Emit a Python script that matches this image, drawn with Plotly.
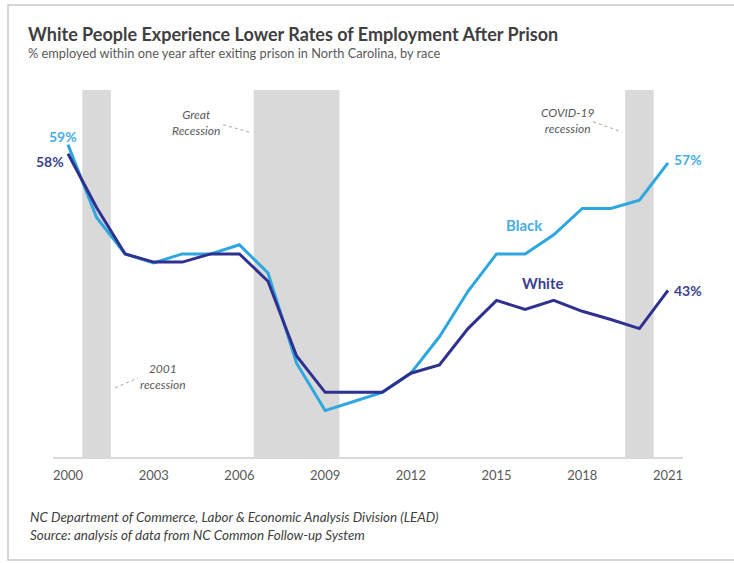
import plotly.graph_objects as go

# ---- data ----
years = list(range(2000, 2022))
black = [59, 51, 47, 46, 47, 47, 48, 44.9, 35, 29.8, 30.8, 31.8, 33.9, 37.9, 42.9, 47, 47, 49.1, 52, 52, 52.9, 57]
white = [58, 52.1, 47, 46.1, 46.1, 47, 47, 44, 35.8, 31.8, 31.8, 31.8, 33.9, 34.8, 38.8, 41.9, 40.9, 41.9, 40.7, 39.8, 38.8, 43]
recessions = [(2000.5, 2001.5), (2006.5, 2009.5), (2019.5, 2020.5)]
tick_years = [2000, 2003, 2006, 2009, 2012, 2015, 2018, 2021]

BLUE = "#2ea6de"
NAVY = "#2f3191"
FONT = "Lato"
W, H = 734, 564

fig = go.Figure()
fig.add_trace(go.Scatter(x=years, y=black, mode="lines", name="Black",
                         line=dict(color=BLUE, width=3), hoverinfo="skip"))
fig.add_trace(go.Scatter(x=years, y=white, mode="lines", name="White",
                         line=dict(color=NAVY, width=3), hoverinfo="skip"))

shapes = []
for x0, x1 in recessions:
    shapes.append(dict(type="rect", xref="x", yref="y domain", x0=x0, x1=x1, y0=0, y1=1,
                       fillcolor="#d9d9d9", line=dict(width=0), layer="below"))
# dotted connector lines for recession notes
for (xa, ya, xb, yb) in [(2005.43, 61.19, 2006.41, 60.31),
                         (2018.38, 61.5, 2019.39, 60.4),
                         (2001.65, 32.29, 2002.45, 33.38)]:
    shapes.append(dict(type="line", xref="x", yref="y", x0=xa, y0=ya, x1=xb, y1=yb,
                       line=dict(color="#a6a6a6", width=1, dash="dot")))
# frame
shapes.append(dict(type="rect", xref="paper", yref="paper",
                   x0=8 / W, x1=760 / W, y0=1 - 560 / H, y1=1 - 5 / H,
                   line=dict(color="#c8c8c8", width=1.5), fillcolor="rgba(0,0,0,0)"))

ann = []
def lab(x, y, text, color, xanchor="center", xshift=0, yshift=0, size=14, bold=True, italic=False):
    t = text
    if bold:
        t = "<b>" + t + "</b>"
    if italic:
        t = "<i>" + t + "</i>"
    ann.append(dict(x=x, y=y, xref="x", yref="y", text=t, showarrow=False,
                    xanchor=xanchor, xshift=xshift, yshift=yshift,
                    font=dict(family=FONT, size=size, color=color)))

lab(years[0], black[0], "59%", "#45aee2", xanchor="center", xshift=-5, yshift=8)
lab(years[0], white[0], "58%", "#3a3f8f", xanchor="center", xshift=-18, yshift=-8)
lab(years[-1], black[-1], "57%", "#45aee2", xanchor="left", xshift=4, yshift=3)
lab(years[-1], white[-1], "43%", "#3a3f8f", xanchor="left", xshift=4, yshift=0)
lab(2015.96, 50.2, "Black", "#45aee2", size=15)
lab(2016.59, 43.8, "White", "#3a3f8f", size=15)
lab(2004.48, 61.4, "Great<br>Recession", "#595959", size=12, bold=False, italic=True)
lab(2017.47, 61.6, "COVID-19<br>recession", "#595959", size=12, bold=False, italic=True)
lab(2003.33, 33.5, "2001<br>recession", "#595959", size=12, bold=False, italic=True)

def ptext(x, y, text, size, color, bold=False, italic=False):
    t = text
    if bold:
        t = "<b>" + t + "</b>"
    if italic:
        t = "<i>" + t + "</i>"
    ann.append(dict(x=x / W, y=1 - y / H, xref="paper", yref="paper", text=t, showarrow=False,
                    xanchor="left", yanchor="middle",
                    font=dict(family=FONT, size=size, color=color)))

ptext(26, 34, "White People Experience Lower Rates of Employment After Prison", 18, "#404040", bold=True)
ptext(26, 53, "% employed within one year after exiting prison in North Carolina, by race", 12.8, "#595959")
ptext(28, 517, "NC Department of Commerce, Labor &amp; Economic Analysis Division (LEAD)", 13.4, "#404040", italic=True)
ptext(28, 535, "Source: analysis of data from NC Common Follow-up System", 13.4, "#404040", italic=True)

fig.update_layout(
    width=W, height=H,
    margin=dict(l=0, r=0, t=0, b=0),
    paper_bgcolor="white", plot_bgcolor="white",
    showlegend=False,
    shapes=shapes, annotations=ann,
    xaxis=dict(domain=[53 / W, 683 / W], range=[1999.475, 2021.525],
               tickvals=tick_years, ticktext=[str(t) for t in tick_years],
               showgrid=False, zeroline=False, showline=True, linecolor="#d9d9d9", linewidth=1.5,
               ticks="", tickfont=dict(family=FONT, size=13, color="#595959"), ticklabelstandoff=6),
    yaxis=dict(domain=[1 - 457 / H, 1 - 90 / H], range=[24.7, 65.0],
               showgrid=False, zeroline=False, showline=False, showticklabels=False, ticks=""),
)

fig.write_html("out.html", config={"displayModeBar": False},
               post_script="document.body.style.margin='0';")
